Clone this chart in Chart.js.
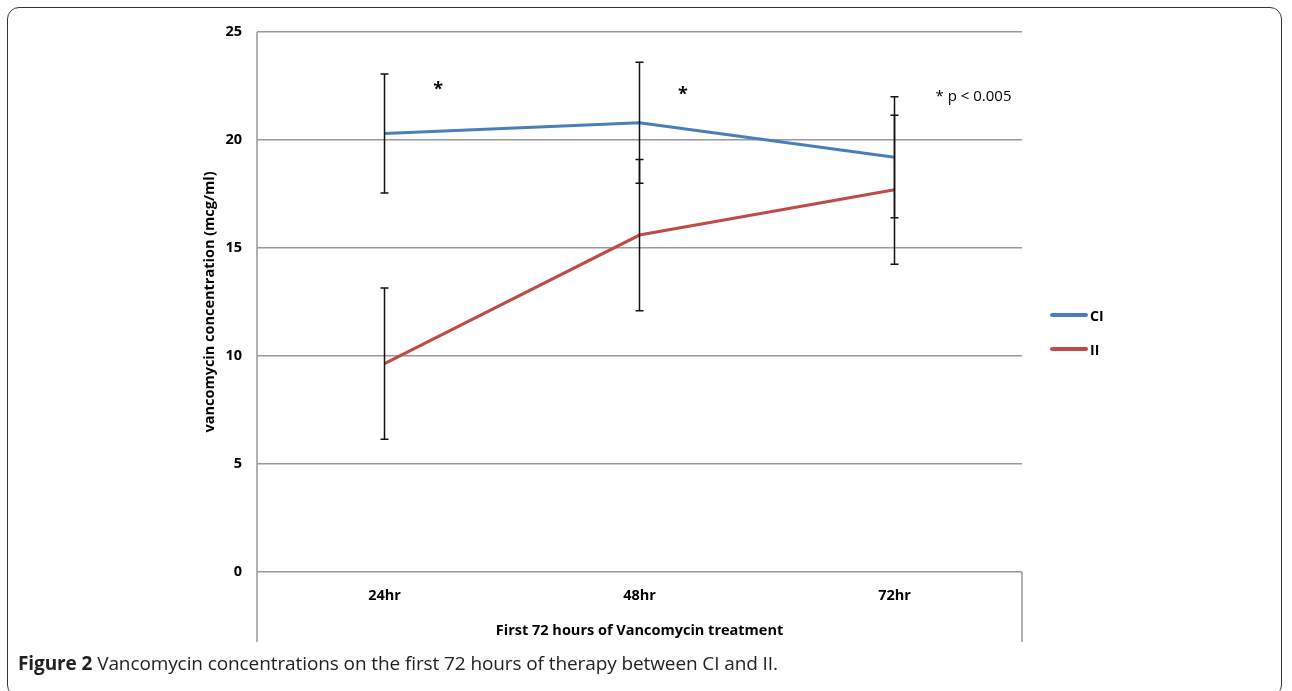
<!DOCTYPE html>
<html>
<head>
<meta charset="utf-8">
<script src="https://cdn.jsdelivr.net/npm/chart.js@4.4.1/dist/chart.umd.min.js"></script>
<style>
  html, body { margin: 0; padding: 0; background: #fff; }
  #wrap { position: relative; width: 1292px; height: 691px; overflow: hidden; }
  #frame { position: absolute; left: 7px; top: 7px; width: 1275px; height: 690px; border: 1.5px solid #333; border-radius: 12px; box-sizing: border-box; }
  #chart { position: absolute; left: 0; top: 0; }
  #legend { position: absolute; left: 1050px; top: 305px; font: bold 14px "Open Sans", sans-serif; color: #000; }
  .item { display: flex; align-items: center; height: 20px; margin-bottom: 14px; }
  .swatch { width: 38px; height: 4px; border-radius: 2px; margin-right: 2px; }
  #caption { position: absolute; left: 18px; top: 650px; font: 19px "Open Sans", sans-serif; color: #222; letter-spacing: -0.1px; }
  #caption b { font-weight: bold; }
</style>
</head>
<body>
<div id="wrap">
  <div id="frame"></div>
  <canvas id="chart" width="1292" height="691"></canvas>
  <div id="legend"></div>
  <div id="caption"><b>Figure 2</b> Vancomycin concentrations on the first 72 hours of therapy between CI and II.</div>
</div>
<script>
// valores
const horas = ['24hr', '48hr', '72hr'];
const serieCI = [20.3, 20.8, 19.2];
const errorCI = [2.75, 2.8, 2.8];
const serieII = [9.65, 15.6, 17.7];
const errorII = [3.5, 3.5, 3.45];
const ticksY = [0, 5, 10, 15, 20, 25];

// notas de significancia (x en indice de categoria, y en mcg/ml)
const notas = [
  { texto: '*', x: 0.21, y: 22.3 },
  { texto: '*', x: 1.17, y: 22.1 },
  { texto: '* p < 0.005', x: 2.31, y: 22.0 }
];

const azul = '#4a7ebb';
const rojo = '#be4b48';

const barrasError = {
  id: 'barrasError',
  afterDatasetsDraw(chart) {
    const ctx = chart.ctx;
    const x = chart.scales.x, y = chart.scales.y;
    const grupos = [[serieCI, errorCI], [serieII, errorII]];
    ctx.save();
    ctx.strokeStyle = '#111';
    ctx.lineWidth = 1.5;
    grupos.forEach(([vals, errs]) => {
      vals.forEach((v, i) => {
        const px = x.getPixelForValue(i);
        const top = y.getPixelForValue(v + errs[i]);
        const bot = y.getPixelForValue(v - errs[i]);
        ctx.beginPath();
        ctx.moveTo(px, top); ctx.lineTo(px, bot);
        ctx.moveTo(px - 4, top); ctx.lineTo(px + 4, top);
        ctx.moveTo(px - 4, bot); ctx.lineTo(px + 4, bot);
        ctx.stroke();
      });
    });
    // notas
    ctx.fillStyle = '#000';
    ctx.textAlign = 'center';
    ctx.textBaseline = 'middle';
    notas.forEach(n => {
      ctx.font = n.texto === '*' ? 'bold 18px "Open Sans", sans-serif' : '15px "Open Sans", sans-serif';
      const px = x.left + (n.x + 0.5) * (x.right - x.left) / horas.length;
      ctx.fillText(n.texto, px, y.getPixelForValue(n.y));
    });
    ctx.restore();
  },
  beforeDatasetsDraw(chart) {
    // ejes que bajan por la zona de etiquetas, como en excel
    const ctx = chart.ctx;
    const a = chart.chartArea;
    const fondo = chart.scales.x.bottom;
    ctx.save();
    ctx.strokeStyle = '#999';
    ctx.lineWidth = 1.5;
    ctx.beginPath();
    ctx.moveTo(a.left, a.top); ctx.lineTo(a.left, fondo);
    ctx.moveTo(a.right, a.bottom); ctx.lineTo(a.right, fondo);
    ctx.stroke();
    ctx.restore();
  }
};

const fuente = { family: 'Open Sans', weight: 'bold', size: 14.5 };

new Chart(document.getElementById('chart'), {
  type: 'line',
  data: {
    labels: horas,
    datasets: [
      { label: 'CI', data: serieCI, borderColor: azul, borderWidth: 3, pointRadius: 0, tension: 0 },
      { label: 'II', data: serieII, borderColor: rojo, borderWidth: 3, pointRadius: 0, tension: 0 }
    ]
  },
  options: {
    responsive: false,
    animation: false,
    layout: { padding: { left: 190, right: 270, top: 32, bottom: 49 } },
    plugins: { legend: { display: false }, tooltip: { enabled: false } },
    scales: {
      x: {
        offset: true,
        afterFit(s) { s.height = 70; },
        grid: { display: false, drawTicks: false },
        border: { display: false },
        ticks: { padding: 15, color: '#000', font: fuente },
        title: { display: true, text: 'First 72 hours of Vancomycin treatment', color: '#000', padding: { top: 0, bottom: 2 }, font: fuente }
      },
      y: {
        min: 0, max: 25,
        afterFit(s) { s.width = 67; },
        afterBuildTicks(s) { s.ticks = ticksY.map(v => ({ value: v })); },
        grid: { color: '#999', lineWidth: 1.5, drawTicks: false },
        border: { display: false },
        ticks: { padding: 15, color: '#000', font: fuente },
        title: { display: true, text: 'vancomycin concentration (mcg/ml)', color: '#000', padding: { top: 11, bottom: 0 }, font: fuente }
      }
    }
  },
  plugins: [barrasError]
});

const leyenda = document.getElementById('legend');
[['CI', azul], ['II', rojo]].forEach(([t, c]) => {
  leyenda.insertAdjacentHTML('beforeend', '<div class="item"><span class="swatch" style="background:' + c + '"></span>' + t + '</div>');
});
</script>
</body>
</html>
